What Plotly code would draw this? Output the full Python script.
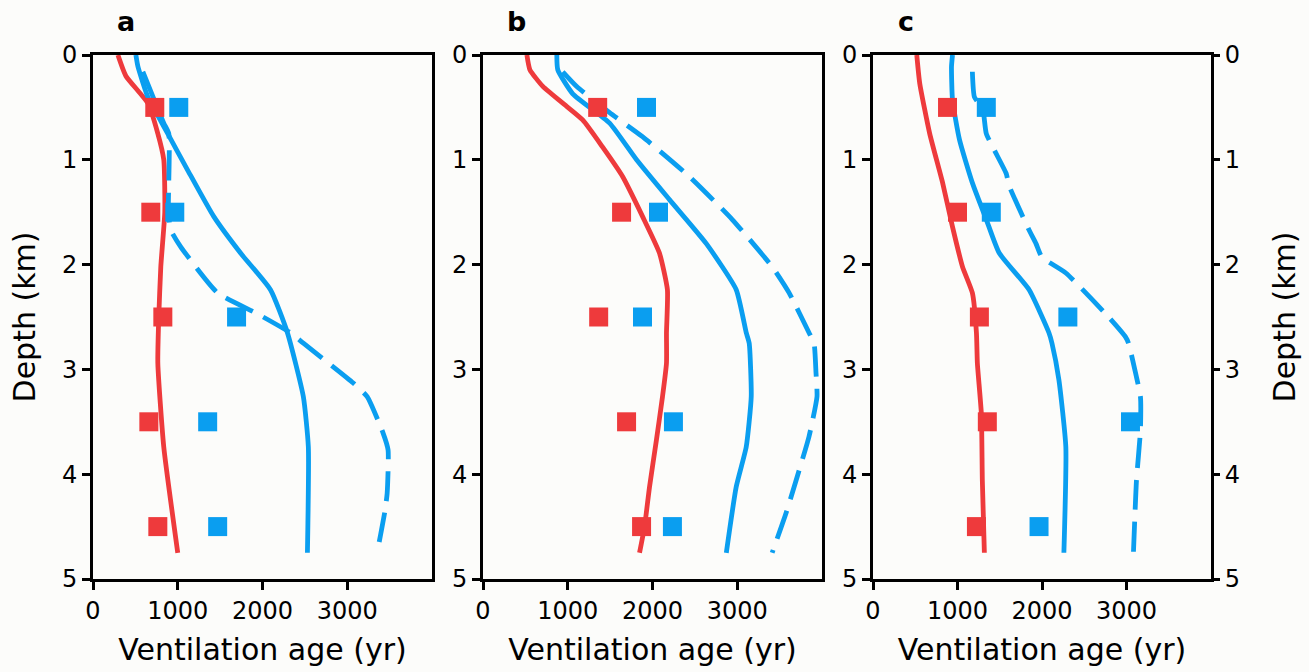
import plotly.graph_objects as go

# ---------------- data ----------------
sq_depth = [0.5, 1.5, 2.5, 3.5, 4.5]

# Panel a
a_red_depth = [0, 0.2, 0.46, 0.75, 1.0, 1.5, 2.02, 2.5, 2.94, 3.74, 4.75]
a_red_age = [294, 388, 647, 765, 835, 847, 800, 776, 765, 835, 1000]
a_blue_depth = [0, 0.11, 0.4, 0.75, 1.1, 1.54, 1.89, 2.24, 2.65, 3.26, 3.74, 4.75]
a_blue_age = [506, 530, 647, 882, 1118, 1424, 1741, 2094, 2294, 2482, 2541, 2530]
a_dash_depth = [0.16, 0.65, 0.75, 1.5, 1.67, 1.83, 2.27, 2.47, 2.65, 2.75, 3.13, 3.26, 3.61, 3.77, 4.18, 4.34, 4.75]
a_dash_age = [588, 835, 894, 890, 918, 1035, 1470, 1941, 2329, 2482, 3071, 3235, 3424, 3482, 3471, 3447, 3353]
a_red_sq = [729, 682, 824, 659, 765]
a_blue_sq = [1012, 965, 1694, 1353, 1471]

# Panel b
b_red_depth = [0, 0.14, 0.3, 0.46, 0.62, 0.88, 1.16, 1.54, 1.89, 2.24, 2.65, 2.94, 3.26, 3.67, 4.12, 4.5, 4.75]
b_red_age = [518, 553, 706, 941, 1176, 1412, 1647, 1882, 2082, 2176, 2165, 2165, 2118, 2047, 1965, 1906, 1847]
b_blue_depth = [0, 0.14, 0.37, 0.65, 1.0, 1.38, 1.8, 2.24, 2.65, 2.75, 3.26, 3.74, 4.12, 4.75]
b_blue_age = [871, 882, 1059, 1494, 1812, 2200, 2635, 2988, 3106, 3141, 3165, 3106, 2988, 2871]
b_dash_depth = [0.16, 0.3, 0.55, 0.78, 1.16, 1.57, 2.02, 2.27, 2.65, 2.75, 3.03, 3.26, 3.64, 4.06, 4.37, 4.75]
b_dash_age = [941, 1106, 1494, 1882, 2435, 2941, 3412, 3612, 3847, 3906, 3929, 3941, 3847, 3694, 3576, 3412]
b_red_sq = [1353, 1635, 1365, 1694, 1871]
b_blue_sq = [1929, 2071, 1882, 2247, 2235]

# Panel c
c_red_depth = [0, 0.27, 0.75, 1.22, 1.64, 2.02, 2.27, 2.65, 2.94, 3.42, 4.06, 4.75]
c_red_age = [518, 553, 671, 824, 941, 1059, 1176, 1224, 1235, 1282, 1294, 1318]
c_blue_depth = [0, 0.11, 0.43, 0.81, 1.22, 1.57, 1.89, 2.24, 2.65, 2.75, 3.1, 3.74, 4.75]
c_blue_age = [941, 929, 941, 1024, 1176, 1341, 1494, 1847, 2082, 2118, 2200, 2282, 2259]
c_dash_depth = [0.16, 0.4, 0.52, 0.75, 1.13, 1.25, 1.67, 1.8, 1.93, 2.08, 2.5, 2.69, 2.75, 3.03, 3.26, 3.58, 4.06, 4.75]
c_dash_age = [1176, 1200, 1300, 1341, 1576, 1612, 1847, 1929, 2000, 2282, 2788, 2988, 3024, 3106, 3165, 3165, 3118, 3082]
c_red_sq = [882, 1000, 1259, 1353, 1224]
c_blue_sq = [1341, 1400, 2306, 3047, 1965]

panel_labels = ["a", "b", "c"]
x_ticks = [0, 1000, 2000, 3000]
y_ticks = [0, 1, 2, 3, 4, 5]

RED = "#ee3a3c"
BLUE = "#0a9ef0"
BG = "#fcfcfa"
FONT = "DejaVu Sans"
TICK_SIZE = 24
TITLE_SIZE = 30

panels = [
    (a_red_depth, a_red_age, a_blue_depth, a_blue_age, a_dash_depth, a_dash_age, a_red_sq, a_blue_sq),
    (b_red_depth, b_red_age, b_blue_depth, b_blue_age, b_dash_depth, b_dash_age, b_red_sq, b_blue_sq),
    (c_red_depth, c_red_age, c_blue_depth, c_blue_age, c_dash_depth, c_dash_age, c_red_sq, c_blue_sq),
]

fig = go.Figure()
for i, (rd, ra, bd, ba, dd, da, rsq, bsq) in enumerate(panels):
    xa = "x" if i == 0 else f"x{i+1}"
    ya = "y" if i == 0 else f"y{i+1}"
    lw = 4.8
    fig.add_trace(go.Scatter(x=ra, y=rd, mode="lines",
                             line=dict(color=RED, width=lw, shape="spline", smoothing=0.5),
                             xaxis=xa, yaxis=ya, showlegend=False))
    fig.add_trace(go.Scatter(x=ba, y=bd, mode="lines",
                             line=dict(color=BLUE, width=lw, shape="spline", smoothing=0.5),
                             xaxis=xa, yaxis=ya, showlegend=False))
    fig.add_trace(go.Scatter(x=da, y=dd, mode="lines",
                             line=dict(color=BLUE, width=lw, dash="30px,12px", shape="spline", smoothing=0.5),
                             xaxis=xa, yaxis=ya, showlegend=False))
    fig.add_trace(go.Scatter(x=rsq, y=sq_depth, mode="markers",
                             marker=dict(symbol="square", size=19, color=RED, line=dict(width=0)),
                             xaxis=xa, yaxis=ya, showlegend=False))
    fig.add_trace(go.Scatter(x=bsq, y=sq_depth, mode="markers",
                             marker=dict(symbol="square", size=19, color=BLUE, line=dict(width=0)),
                             xaxis=xa, yaxis=ya, showlegend=False))

# invisible trace for right-hand depth axis on panel c
fig.add_trace(go.Scatter(x=[None], y=[None], xaxis="x3", yaxis="y4", showlegend=False,
                         hoverinfo="skip"))

W, H = 1309, 672
xdoms = [(93, 432), (483, 822), (873, 1211)]
ydom = [1 - 579 / H, 1 - 55 / H]

layout = dict(
    width=W, height=H,
    margin=dict(l=0, r=0, t=0, b=0),
    paper_bgcolor=BG, plot_bgcolor=BG,
    font=dict(family=FONT, color="black", size=TICK_SIZE),
    annotations=[],
)

for i, (x0, x1) in enumerate(xdoms):
    xk = "xaxis" if i == 0 else f"xaxis{i+1}"
    yk = "yaxis" if i == 0 else f"yaxis{i+1}"
    ya = "y" if i == 0 else f"y{i+1}"
    xa = "x" if i == 0 else f"x{i+1}"
    layout[xk] = dict(
        domain=[x0 / W, x1 / W], anchor=ya, range=[0, 4000],
        tickvals=x_ticks, ticks="outside", ticklen=8, tickwidth=3, tickcolor="black",
        showline=True, linewidth=3, linecolor="black", mirror=True,
        showgrid=False, zeroline=False, automargin=False,
        tickfont=dict(size=TICK_SIZE, family=FONT),
        title=dict(text="Ventilation age (yr)", font=dict(size=TITLE_SIZE, family=FONT), standoff=16),
    )
    layout[yk] = dict(
        domain=ydom, anchor=xa, range=[5, 0],
        tickvals=y_ticks, ticks="outside", ticklen=8, tickwidth=3, tickcolor="black",
        showline=True, linewidth=3, linecolor="black", mirror=True,
        showgrid=False, zeroline=False, automargin=False,
        tickfont=dict(size=TICK_SIZE, family=FONT),
    )
    layout["annotations"].append(dict(
        text=f"<b>{panel_labels[i]}</b>", x=(x0 + 33) / W, y=1 - 22 / H,
        xref="paper", yref="paper", showarrow=False, xanchor="center", yanchor="middle",
        font=dict(size=27, family=FONT),
    ))

layout["yaxis"]["title"] = dict(text="Depth (km)", font=dict(size=TITLE_SIZE, family=FONT), standoff=18)
layout["yaxis4"] = dict(
    overlaying="y3", side="right", anchor="x3", range=[5, 0],
    tickvals=y_ticks, ticks="outside", ticklen=8, tickwidth=3, tickcolor="black",
    showline=False, showgrid=False, zeroline=False, automargin=False,
    tickfont=dict(size=TICK_SIZE, family=FONT),
    title=dict(text="Depth (km)", font=dict(size=TITLE_SIZE, family=FONT), standoff=34),
)

fig.update_layout(**layout)
fig.write_html("out.html")
